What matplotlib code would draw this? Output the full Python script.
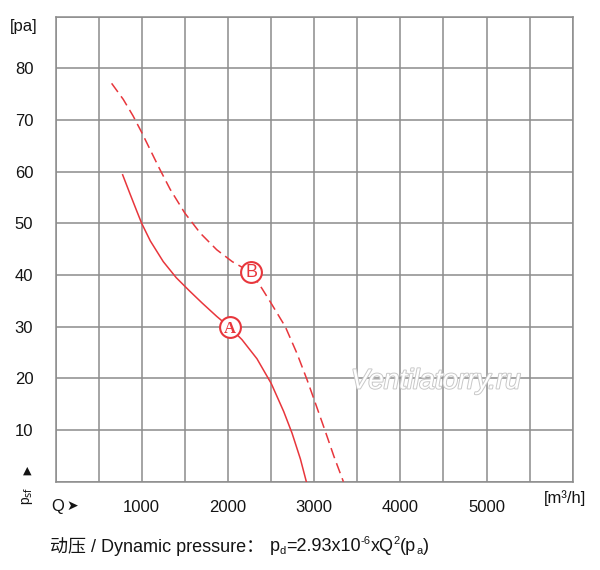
import matplotlib
matplotlib.use("Agg")
import matplotlib.pyplot as plt
import matplotlib.patheffects as pe

plt.rcParams['font.family'] = ['Liberation Sans', 'DejaVu Sans']

# curve A (solid) - airflow m3/h vs static pressure pa
a_flow = [779, 860, 940, 1000, 1100, 1250, 1400, 1550, 1700, 1870, 2019, 2163, 2337, 2503, 2647, 2744, 2841, 2910]
a_pres = [59.4, 55.9, 52.5, 50, 46.6, 42.6, 39.5, 37.0, 34.6, 32.0, 29.9, 27.5, 23.8, 19.0, 13.6, 9.4, 4.4, 0]

# curve B (dashed)
b_flow = [651, 786, 900, 1000, 1100, 1200, 1330, 1500, 1680, 1870, 2050, 2270, 2395, 2503, 2666, 2802, 2919, 3015, 3131, 3230, 3340]
b_pres = [77.1, 74.0, 70.8, 67.6, 64.2, 60.8, 56.6, 52.0, 48.1, 44.9, 42.6, 40.5, 37.4, 34.5, 30, 24.8, 19.7, 15.2, 9.7, 4.9, 0]

# label points on the curves
labels = ["A", "B"]
label_flow = [2019, 2272]
label_pres = [29.9, 40.5]

x_ticks = [1000, 2000, 3000, 4000, 5000]
y_ticks = [10, 20, 30, 40, 50, 60, 70, 80]

red = "#e8363c"
grey = "#8c8c8c"
ink = "#141414"

fig = plt.figure(figsize=(6, 5.7), dpi=100)
ax = fig.add_axes([0.0925, 0.1549, 0.862, 0.8158])
ax.set_xlim(0, 6000)
ax.set_ylim(0, 90)

ax.set_xticks(range(0, 6001, 500))
ax.set_xticklabels([str(v) if v in x_ticks else "" for v in range(0, 6001, 500)])
ax.set_yticks(range(0, 91, 10))
ax.set_yticklabels([str(v) if v in y_ticks else "" for v in range(0, 91, 10)])
ax.tick_params(length=0, labelsize=12, colors=ink)
ax.tick_params(axis="x", pad=13)
ax.tick_params(axis="y", pad=16)
ax.grid(True, color=grey, lw=1.1)
for s in ax.spines.values():
    s.set_color(grey)
    s.set_linewidth(1.1)

ax.plot(a_flow, a_pres, color=red, lw=1.1, zorder=3)
ax.plot(b_flow, b_pres, color=red, lw=1.1, ls=(0, (7, 3.5)), zorder=3)

ax.plot(label_flow, label_pres, "o", ms=15, mfc="white", mec=red, mew=1.5, zorder=4)
ax.text(label_flow[0], label_pres[0] - 0.3, labels[0], color=red, fontsize=12,
        family="Liberation Serif", weight="bold", ha="center", va="center", zorder=5)
ax.text(label_flow[1], label_pres[1], labels[1], color=red, fontsize=13,
        ha="center", va="center", zorder=5)

# watermark
ax.text(4410, 19.4, "Ventilatorry.ru", fontsize=20, style="italic", color="white",
        ha="center", va="center", zorder=6,
        path_effects=[pe.withStroke(linewidth=1.4, foreground="#c8c8c8")])

# axis annotations
fig.text(0.039, 0.953, "[pa]", fontsize=12, ha="center", va="center", color=ink)
fig.text(0.046, 0.175, "▲", fontsize=8, ha="center", va="center", color=ink,
         family="DejaVu Sans")
fig.text(0.046, 0.131, "p$_{\\mathrm{sf}}$", fontsize=10, rotation=90, ha="center",
         va="center", color=ink)
fig.text(0.085, 0.111, "Q", fontsize=12, ha="left", va="center", color=ink)
fig.text(0.110, 0.112, "➤", fontsize=10, ha="left", va="center", color=ink,
         family="DejaVu Sans")
fig.text(0.942, 0.127, "[m³/h]", fontsize=12, ha="center", va="center", color=ink)

# caption, written piece by piece so the sub/superscripts stay small
fig.text(0.083, 0.041, "动压 / Dynamic pressure：", fontsize=13, ha="left", va="center",
         family=["Liberation Sans", "Noto Sans CJK SC"], color=ink)
pieces = [("p", 13, 0), ("d", 8, -5), ("=2.93x10", 13, 0), ("-6", 8, 5),
          ("xQ", 13, 0), ("2", 8, 5), ("(p", 13, 0), ("a", 8, -5), (")", 13, 0)]
fig.canvas.draw()
renderer = fig.canvas.get_renderer()
x_px = 270
y_px = 570 - 546.5
for txt, size, dy in pieces:
    t = fig.text(x_px / 600, (y_px + dy) / 570, txt, fontsize=size, ha="left",
                 va="center", color=ink)
    x_px = t.get_window_extent(renderer).x1

fig.savefig("out.png", dpi=100)
